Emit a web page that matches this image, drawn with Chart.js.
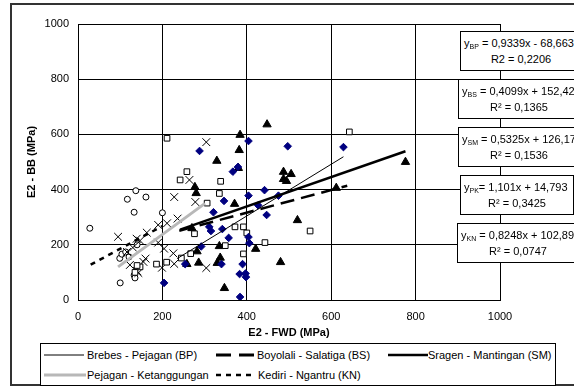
<!DOCTYPE html>
<html>
<head>
<meta charset="utf-8">
<script src="https://cdn.jsdelivr.net/npm/chart.js@4.4.1/dist/chart.umd.min.js"></script>
<style>
  html, body { margin: 0; padding: 0; background: #fff; }
  #wrap { position: relative; width: 574px; height: 387px; overflow: hidden;
          font-family: "Liberation Sans", Arial, sans-serif; font-size: 11px; color: #000; }
  #frame { position: absolute; left: 10px; top: 3px; width: 620px; height: 383px;
           box-sizing: border-box; border: 2px solid #333; }
  canvas { position: absolute; left: 0; top: 0; }
  .eq { position: absolute; background: #fff; border: 1px solid #000; height: 40px;
        box-sizing: border-box; padding-top: 4px; line-height: 14px; white-space: nowrap; }
  .eq .l1 { padding-left: 3px; }
  .eq .l2 { text-align: center; }
  .sb { font-size: 7px; position: relative; top: 2px; }
  #legend { position: absolute; left: 40px; top: 343px; width: 516px; height: 43px;
            box-sizing: border-box; border: 1px solid #000; background: #fff; }
  #legend svg, #legend span { position: absolute; }
  #legend span { line-height: 14px; white-space: nowrap; }
</style>
</head>
<body>
<div id="wrap">
  <div id="frame"></div>
  <canvas id="chart" width="574" height="387"></canvas>

  <div class="eq" style="left:460px;top:31px;width:122px">
    <div class="l1">y<span class="sb">BP</span> = 0,9339x - 68,663</div>
    <div class="l2">R2 = 0,2206</div>
  </div>
  <div class="eq" style="left:458px;top:79px;width:122px">
    <div class="l1">y<span class="sb">BS</span> = 0,4099x + 152,42</div>
    <div class="l2">R² = 0,1365</div>
  </div>
  <div class="eq" style="left:458px;top:127px;width:122px">
    <div class="l1">y<span class="sb">SM</span> = 0,5325x + 126,17</div>
    <div class="l2">R² = 0,1536</div>
  </div>
  <div class="eq" style="left:460px;top:175px;width:114px">
    <div class="l1">y<span class="sb">PK</span>= 1,101x + 14,793</div>
    <div class="l2">R² = 0,3425</div>
  </div>
  <div class="eq" style="left:457px;top:223px;width:122px">
    <div class="l1">y<span class="sb">KN</span> = 0,8248x + 102,89</div>
    <div class="l2">R² = 0,0747</div>
  </div>

  <div id="legend">
    <svg style="left:3px;top:8px" width="40" height="6"><line x1="0" y1="3" x2="40" y2="3" stroke="#000" stroke-width="1"/></svg>
    <span style="left:46px;top:4px">Brebes - Pejagan (BP)</span>
    <svg style="left:175px;top:8px" width="40" height="6"><line x1="0" y1="3" x2="40" y2="3" stroke="#000" stroke-width="3" stroke-dasharray="15,8"/></svg>
    <span style="left:216px;top:4px">Boyolali - Salatiga (BS)</span>
    <svg style="left:347px;top:8px" width="40" height="6"><line x1="0" y1="3" x2="40" y2="3" stroke="#000" stroke-width="2.5"/></svg>
    <span style="left:387px;top:4px">Sragen - Mantingan (SM)</span>
    <svg style="left:3px;top:28px" width="42" height="6"><line x1="0" y1="3" x2="42" y2="3" stroke="#b8b8b8" stroke-width="3"/></svg>
    <span style="left:46px;top:24px">Pejagan - Ketanggungan</span>
    <svg style="left:175px;top:28px" width="40" height="6"><line x1="0" y1="3" x2="40" y2="3" stroke="#000" stroke-width="2.5" stroke-dasharray="5,5"/></svg>
    <span style="left:217px;top:24px">Kediri - Ngantru (KN)</span>
  </div>
</div>

<script>
// nilai (MPa)
const bpX = [204, 254, 292, 311, 315, 321, 342, 346, 357, 340, 367, 379, 384, 383, 397, 398, 390, 404, 406, 404, 404, 288, 427, 442, 447, 475, 497, 629];
const bpY = [62, 130, 194, 265, 250, 318, 257, 359, 225, 130, 465, 482, 11, 94, 96, 83, 130, 228, 206, 378, 576, 540, 343, 398, 308, 378, 557, 554];

const bsX = [135, 147, 140, 186, 210, 245, 267, 276, 306, 211, 242, 258, 335, 338, 349, 372, 392, 400, 392, 443, 550, 643];
const bsY = [100, 120, 125, 130, 137, 152, 168, 240, 351, 586, 435, 465, 386, 430, 197, 265, 265, 243, 167, 208, 250, 609];

const smX = [258, 270, 282, 286, 330, 335, 337, 347, 371, 421, 480, 520, 612, 776, 277, 280, 329, 380, 382, 384, 448, 487, 505, 487, 494];
const smY = [130, 260, 176, 135, 134, 195, 153, 43, 348, 185, 137, 289, 406, 500, 409, 387, 504, 478, 543, 598, 636, 464, 456, 438, 431];

const pkX = [95, 116, 123, 139, 143, 155, 163, 190, 190, 199, 204, 211, 226, 228, 228, 236, 264, 278, 304, 304, 140, 130, 160, 147];
const pkY = [229, 174, 127, 222, 98, 138, 244, 272, 208, 117, 186, 278, 169, 131, 373, 295, 435, 355, 572, 116, 105, 190, 150, 215];

const knX = [28, 100, 99, 104, 113, 121, 133, 135, 133, 137, 117, 161, 200, 140];
const knY = [260, 62, 151, 166, 174, 156, 90, 80, 318, 396, 365, 373, 316, 200];

// ujung garis tren
const bpLineX = [235, 629], bpLineY = [150, 519];
const bsLineX = [240, 638], bsLineY = [251, 414];
const smLineX = [242, 776], smLineY = [255, 539];
const pkLineX = [95, 301], pkLineY = [120, 350];
const knLineX = [30, 200], knLineY = [128, 268];

const axisTicks = [0, 200, 400, 600, 800, 1000];

const pts = (xs, ys) => xs.map((x, i) => ({ x, y: ys[i] }));

const trend = (xs, ys, color, width, dash) => ({
  type: 'scatter',
  data: pts(xs, ys),
  showLine: true,
  borderColor: color,
  borderWidth: width,
  borderDash: dash,
  pointRadius: 0,
  order: 0,
});

const marks = (xs, ys, style, radius, fill, stroke) => ({
  type: 'scatter',
  data: pts(xs, ys),
  pointStyle: style,
  pointRadius: radius,
  pointBackgroundColor: fill,
  pointBorderColor: stroke,
  pointBorderWidth: 1,
  order: 1,
});

const font = { family: '"Liberation Sans", Arial, sans-serif', size: 11 };

const axis = (title, isX) => ({
  type: 'linear',
  min: axisTicks[0],
  max: axisTicks[axisTicks.length - 1],
  afterBuildTicks: (s) => { s.ticks = axisTicks.map((v) => ({ value: v })); },
  afterFit: (s) => { if (isX) s.height = 45; else s.width = 78; },
  ticks: { font, color: '#000', padding: isX ? 10 : 9, callback: (v) => String(v) },
  grid: { color: '#000', lineWidth: 1, drawTicks: false },
  border: { display: true, color: '#000', width: 1 },
  title: {
    display: true,
    text: title,
    color: '#000',
    font: { ...font, weight: 'bold' },
    padding: isX ? { top: 0, bottom: 5 } : { top: 25, bottom: 0 },
  },
});

new Chart(document.getElementById('chart'), {
  type: 'scatter',
  data: {
    datasets: [
      trend(bpLineX, bpLineY, '#000', 1, []),
      trend(bsLineX, bsLineY, '#000', 2.5, [14, 7]),
      trend(smLineX, smLineY, '#000', 2.5, []),
      trend(pkLineX, pkLineY, '#b8b8b8', 3, []),
      trend(knLineX, knLineY, '#000', 2.5, [5, 5]),
      marks(bpX, bpY, 'rectRot', 3.8, '#000080', '#000080'),
      marks(bsX, bsY, 'rect', 4, '#fff', '#000'),
      marks(smX, smY, 'triangle', 4.8, '#000', '#000'),
      marks(pkX, pkY, 'crossRot', 5.5, '#000', '#000'),
      marks(knX, knY, 'circle', 3, '#fff', '#000'),
    ],
  },
  options: {
    responsive: false,
    animation: false,
    layout: { padding: { left: 0, right: 74, top: 24, bottom: 42 } },
    plugins: { legend: { display: false }, tooltip: { enabled: false } },
    scales: {
      x: axis('E2 - FWD (MPa)', true),
      y: axis('E2 - BB (MPa)', false),
    },
  },
});
</script>
</body>
</html>
